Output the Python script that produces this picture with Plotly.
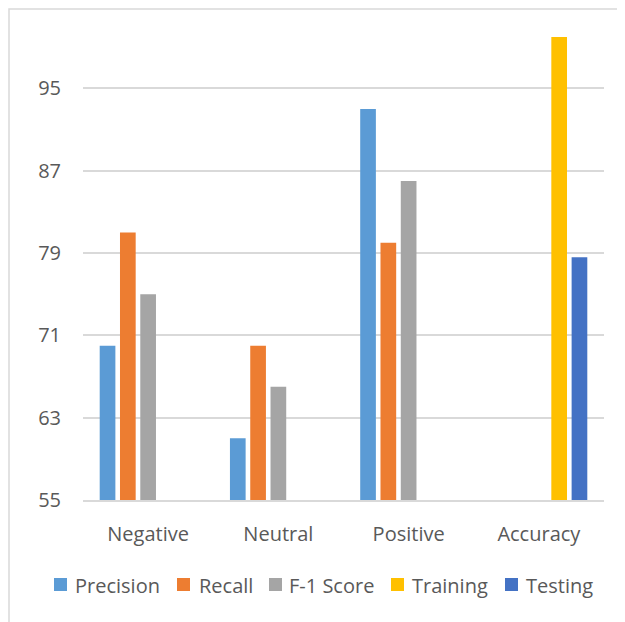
import plotly.graph_objects as go

categories = ["Negative", "Neutral", "Positive", "Accuracy"]
precision = [70, 61, 93, None]
recall = [81, 70, 80, None]
f1_score = [75, 66, 86, None]
training = [None, None, None, 100]
testing = [None, None, None, 78.6]
y_ticks = [55, 63, 71, 79, 87, 95]
series_names = ["Precision", "Recall", "F-1 Score", "Training", "Testing"]
series_colors = ["#5B9BD5", "#ED7D31", "#A5A5A5", "#FFC000", "#4472C4"]
series_values = [precision, recall, f1_score, training, testing]

W, H = 625, 622
L, R, T, B = 75, 29, 0, 130
PW, PH = W - L - R, H - T - B


def px(x):
    return (x - L) / PW


def py(y):
    return (T + PH - y) / PH


fig = go.Figure()
for name, vals, color in zip(series_names, series_values, series_colors):
    fig.add_trace(go.Bar(x=categories, y=vals, name=name, marker_color=color,
                         marker_line_width=0, showlegend=False))

font = "Open Sans, Liberation Sans, sans-serif"
grey = "#595959"

shapes = [dict(type="rect", xref="paper", yref="paper",
               x0=px(1), x1=px(W + 20), y0=py(H + 20), y1=py(1),
               line=dict(color="#d9d9d9", width=1.5), fillcolor="rgba(0,0,0,0)",
               layer="below")]
annotations = []
sq_x = [46, 169, 261, 383, 497]
tx_x = [65, 189, 279, 402, 516]
for name, color, sx, tx in zip(series_names, series_colors, sq_x, tx_x):
    shapes.append(dict(type="rect", xref="paper", yref="paper",
                       x0=px(sx), x1=px(sx + 13), y0=py(583), y1=py(570),
                       line=dict(width=0), fillcolor=color))
    annotations.append(dict(text=name, xref="paper", yref="paper", x=px(tx), y=py(577),
                            xanchor="left", yanchor="middle", showarrow=False,
                            font=dict(size=20, color=grey, family=font)))

fig.update_layout(
    width=W, height=H,
    margin=dict(l=L, r=R, t=T, b=B),
    paper_bgcolor="white", plot_bgcolor="white",
    barmode="group", bargap=0.221, bargroupgap=0.227,
    font=dict(family=font, size=20, color=grey),
    showlegend=False,
    xaxis=dict(showgrid=False, showline=True, linecolor="#d9d9d9", linewidth=1.5,
               ticks="", ticklabelstandoff=15, tickfont=dict(size=20)),
    yaxis=dict(range=[55, 55 + PH / 10.29], tickvals=y_ticks, showgrid=True,
               gridcolor="#d9d9d9", gridwidth=1.5, zeroline=False, ticks="",
               ticklabelstandoff=21, tickfont=dict(size=20)),
    shapes=shapes,
    annotations=annotations,
)

fig.write_html("out.html")
